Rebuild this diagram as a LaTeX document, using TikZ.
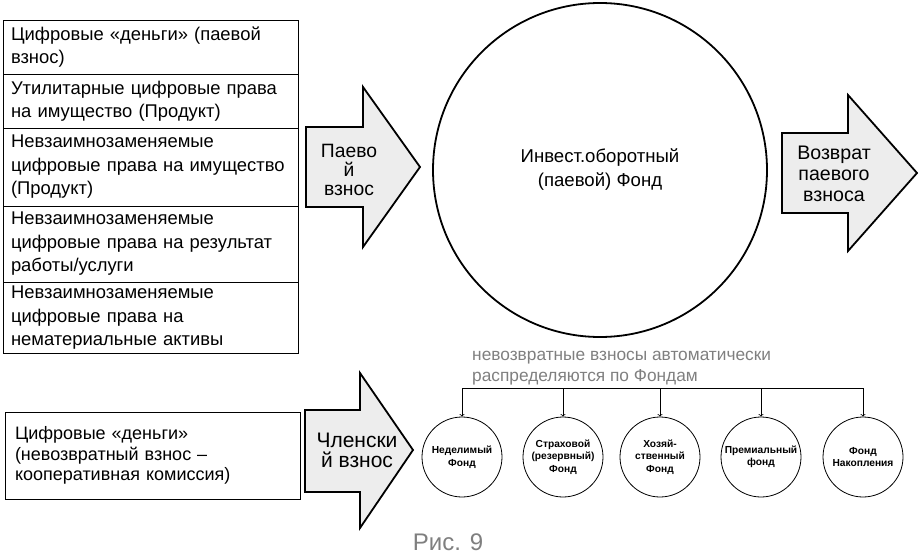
\documentclass[tikz,border=0pt]{standalone}
\usepackage{fontspec}
\setmainfont{Liberation Sans}
\definecolor{arrfill}{HTML}{EDEDED}
\definecolor{notegray}{HTML}{7F7F7F}

\begin{document}
\begin{tikzpicture}[x=1pt,y=-1pt, every node/.style={font=\fontsize{18.4}{23.5}\selectfont},
  cell/.style={draw,line width=0.8pt,text width=279pt,align=left,inner xsep=8pt,inner ysep=4pt,outer sep=0pt,minimum height=#1},
  blk/.style={draw,line width=1.8pt,fill=arrfill,line join=miter},
  blktxt/.style={align=center,inner sep=0pt,font=\fontsize{19.3}{19}\selectfont},
  fund/.style={draw,circle,line width=0.8pt,minimum size=80pt,inner sep=0pt,align=center,font=\fontsize{10.2}{12.5}\selectfont\bfseries},
  note/.style={text=notegray,align=left,inner sep=0pt,font=\fontsize{17.3}{20.5}\selectfont}]
\useasboundingbox (0,0) rectangle (920,559);
% contribution types
\node[cell=54pt,anchor=north west] (c1) at (3,20) {Цифровые «деньги» (паевой\\взнос)};
\node[cell=54pt,anchor=north west] (c2) at (3,74) {Утилитарные цифровые права\\на имущество (Продукт)};
\node[cell=78pt,anchor=north west] (c3) at (3,128) {Невзаимнозаменяемые\\цифровые права на имущество\\(Продукт)};
\node[cell=76pt,anchor=north west] (c4) at (3,206) {Невзаимнозаменяемые\\цифровые права на результат\\работы/услуги};
\node[cell=70pt,anchor=north west] (c5) at (3,282) {Невзаимнозаменяемые\\цифровые права на\\нематериальные активы};
\node[cell=87pt,anchor=north west,inner xsep=10pt,text width=275pt,font=\fontsize{18}{20.5}\selectfont] (dm) at (5,412) {Цифровые «деньги»\\(невозвратный взнос –\\кооперативная комиссия)};
% block arrows
\draw[blk] (306,127) -- (363,127) -- (363,87) -- (420,167) -- (363,247) -- (363,207) -- (306,207) -- cycle;
\node[blktxt] (pv) at (349,170) {Паево\\й\\взнос};
\draw[blk] (782,133) -- (848,133) -- (848,95) -- (917,173) -- (848,251) -- (848,213) -- (782,213) -- cycle;
\node[blktxt,font=\fontsize{19.6}{21}\selectfont] (vz) at (834,174) {Возврат\\паевого\\взноса};
\draw[blk] (305,410) -- (360,410) -- (360,373) -- (413,450) -- (360,528) -- (360,492) -- (305,492) -- cycle;
\node[blktxt,font=\fontsize{21}{20}\selectfont] (cl) at (357,450) {Членски\\й взнос};
% main fund
\node[draw,circle,line width=1.8pt,minimum size=334pt,inner sep=0pt,align=center,font=\fontsize{18.6}{24}\selectfont] (inv) at (600,170) {Инвест.оборотный\\(паевой) Фонд};
% funds
\node[fund] (f1) at (462,457) {Неделимый\\Фонд};
\node[fund] (f2) at (563,457) {Страховой\\(резервный)\\Фонд};
\node[fund] (f3) at (660,457) {Хозяй-\\ственный\\Фонд};
\node[fund] (f4) at (761,457) {Премиальный\\фонд};
\node[fund] (f5) at (863,457) {Фонд\\Накопления};
\node[note,anchor=north west] (nt) at (472,351) {невозвратные взносы автоматически\\распределяются по Фондам};
\coordinate (bus) at (0,388);
\draw[line width=0.8pt] (f1.north |- bus) -- (f5.north |- bus);
\draw[->,line width=0.8pt] (f1.north |- bus) -- (f1);
\draw[->,line width=0.8pt] (f2.north |- bus) -- (f2);
\draw[->,line width=0.8pt] (f3.north |- bus) -- (f3);
\draw[->,line width=0.8pt] (f4.north |- bus) -- (f4);
\draw[->,line width=0.8pt] (f5.north |- bus) -- (f5);
\node[text=notegray,font=\fontsize{24}{28}\selectfont] (cap) at (448,542) {Рис. 9};
\end{tikzpicture}
\end{document}
